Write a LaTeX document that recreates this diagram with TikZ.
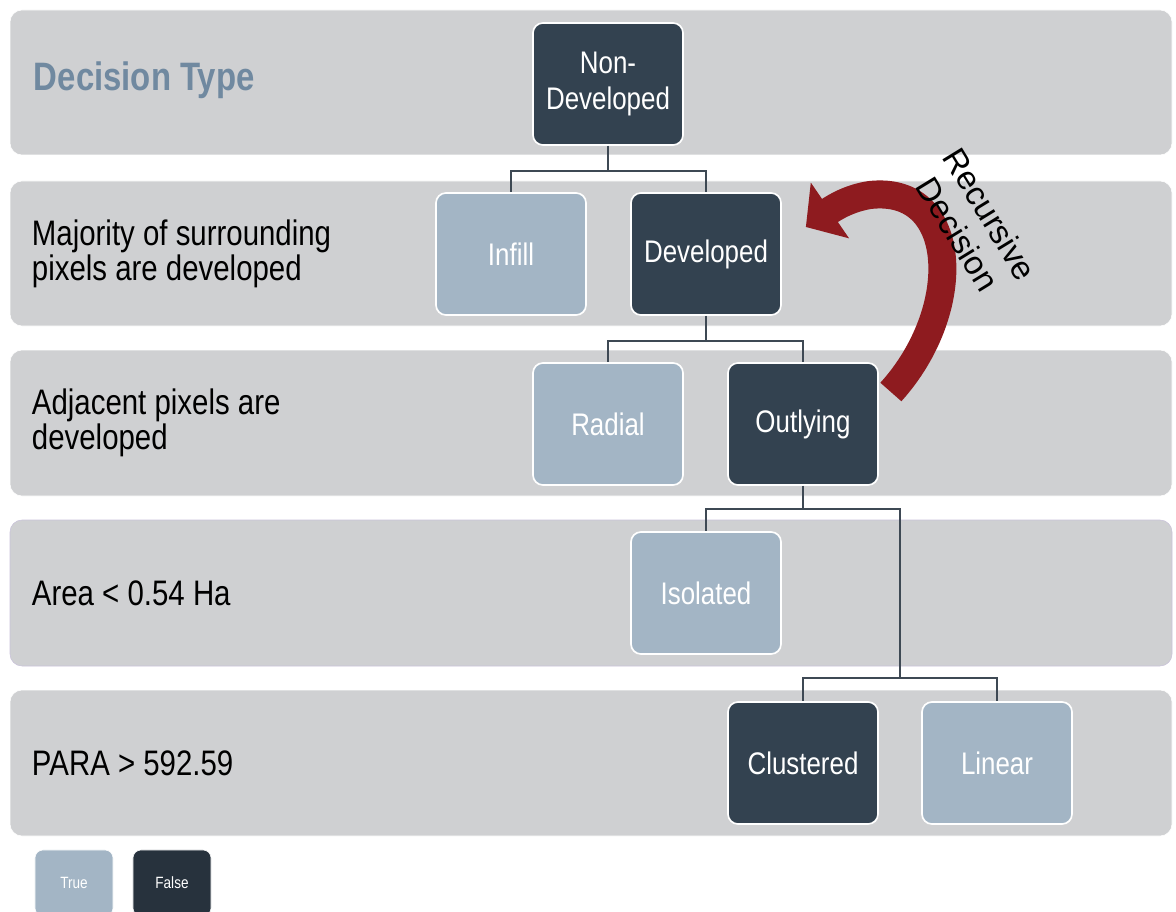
\documentclass[tikz,border=0pt]{standalone}
\usepackage{fontspec}
\setmainfont{Liberation Sans}[FakeStretch=0.83]
\newfontfamily\plainsans{Liberation Sans}
\usetikzlibrary{arrows.meta,calc}

\definecolor{bandgray}{HTML}{CFD0D2}
\definecolor{bandedge}{HTML}{C9C2D9}
\definecolor{truefill}{HTML}{A3B5C5}
\definecolor{falsefill}{HTML}{334250}
\definecolor{legenddark}{HTML}{27323D}
\definecolor{linkcol}{HTML}{3E4954}
\definecolor{titleblue}{HTML}{7089A0}
\definecolor{recurred}{HTML}{8E1B1F}

\begin{document}
\begin{tikzpicture}[x=0.025cm,y=-0.025cm,
    band/.style={fill=bandgray,draw=white,rounded corners=0.3cm},
    decbox/.style={draw=white,line width=1.2pt,rounded corners=0.25cm,minimum width=3.75cm,minimum height=3.05cm,inner sep=0pt,align=center,text=white,font=\fontsize{22.2}{26}\selectfont},
    truebox/.style={decbox,fill=truefill},
    falsebox/.style={decbox,fill=falsefill},
    legbox/.style={draw=white,rounded corners=0.2cm,minimum width=1.95cm,minimum height=1.65cm,text=white,font=\fontsize{11.6}{14}\selectfont},
    rowlabel/.style={anchor=west,align=left,font=\fontsize{25.2}{25}\selectfont},
    link/.style={draw=linkcol,line width=1pt},
    recur/.style={recurred,line width=0.7cm,-{Triangle[length=0.73cm,width=1.65cm]}}]
    \useasboundingbox (0,0) rectangle (1176,912);

    \draw[band] (10,10) rectangle (1172,155);
    \draw[band] (10,181) rectangle (1172,326);
    \draw[band] (10,350) rectangle (1172,496);
    \draw[band,draw=bandedge] (10,520) rectangle (1172,666);
    \draw[band] (10,690) rectangle (1172,836);

    \node[anchor=west,text=titleblue,font=\bfseries\fontsize{28.2}{30}\selectfont] (title) at (29,80) {Decision Type};
    \node[rowlabel] (rowmaj) at (27,254) {Majority of surrounding\\pixels are developed};
    \node[rowlabel] (rowadj) at (27,423) {Adjacent pixels are\\developed};
    \node[rowlabel] (rowarea) at (27,593) {Area < 0.54 Ha};
    \node[rowlabel] (rowpara) at (27,763) {PARA > 592.59};

    \node[falsebox] (nondev) at (608,84) {Non-\\Developed};
    \node[truebox] (infill) at (511,254) {Infill};
    \node[falsebox] (dev) at (706,254) {Developed};
    \node[truebox] (radial) at (608,424) {Radial};
    \node[falsebox] (outlying) at (803,424) {Outlying};
    \node[truebox] (isolated) at (706,593) {Isolated};
    \node[falsebox] (clustered) at (803,763) {Clustered};
    \node[truebox] (linear) at (997,763) {Linear};
    \coordinate (split) at (900,678);

    \draw[link] (nondev.south) -- ++(0,25) -| (infill.north);
    \draw[link] (nondev.south) -- ++(0,25) -| (dev.north);
    \draw[link] (dev.south) -- ++(0,25) -| (radial.north);
    \draw[link] (dev.south) -- ++(0,25) -| (outlying.north);
    \draw[link] (outlying.south) -- ++(0,23) -| (isolated.north);
    \draw[link] (outlying.south) -- ++(0,23) -| (split);
    \draw[link] (split) -| (clustered.north);
    \draw[link] (split) -| (linear.north);

    \draw[recur] ($(outlying.east)+(12,-32)$) .. controls (965,310) and (960,185) .. (870,195) .. controls (850,198) and (835,207) .. ($(dev.east)+(24,-27)$);
    \node[rotate=-58.5,align=center,font=\plainsans\fontsize{23.5}{27}\selectfont] (recurlbl) at (974,224) {Recursive\\Decision};

    \node[legbox,fill=truefill] (legtrue) at (74,883) {True};
    \node[legbox,fill=legenddark] (legfalse) at (172,883) {False};
\end{tikzpicture}
\end{document}
